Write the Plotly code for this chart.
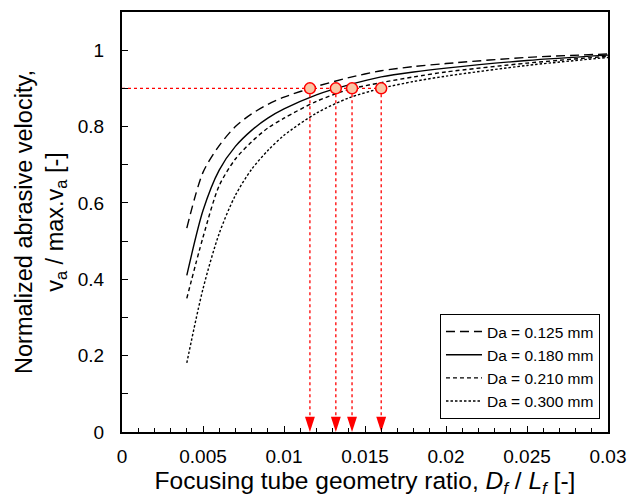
import plotly.graph_objects as go

x_vals = [0.004, 0.005, 0.006, 0.007, 0.008, 0.009, 0.010, 0.012, 0.014, 0.016, 0.018, 0.020, 0.025, 0.030]
v_0125 = [0.534, 0.680, 0.750, 0.800, 0.833, 0.858, 0.877, 0.905, 0.928, 0.946, 0.957, 0.965, 0.981, 0.990]
v_0180 = [0.410, 0.580, 0.686, 0.748, 0.790, 0.822, 0.846, 0.883, 0.909, 0.930, 0.943, 0.953, 0.973, 0.987]
v_0210 = [0.350, 0.510, 0.645, 0.715, 0.760, 0.796, 0.822, 0.866, 0.897, 0.915, 0.930, 0.943, 0.966, 0.984]
v_0300 = [0.181, 0.375, 0.520, 0.620, 0.688, 0.737, 0.777, 0.835, 0.875, 0.900, 0.918, 0.932, 0.960, 0.981]

series_names = ["Da = 0.125 mm", "Da = 0.180 mm", "Da = 0.210 mm", "Da = 0.300 mm"]
series_vals = [v_0125, v_0180, v_0210, v_0300]
dashes = ["9px,5px", "solid", "4px,3px", "2.5px,2px"]

marker_x = [0.0116, 0.0132, 0.0142, 0.0160]
marker_y = 0.9

fig = go.Figure()
for name, vals, d in zip(series_names, series_vals, dashes):
    fig.add_trace(go.Scatter(x=x_vals, y=vals, mode="lines", name=name,
                             line=dict(color="black", width=1.4, dash=d, shape="spline", smoothing=0.8)))

# horizontal guide
fig.add_trace(go.Scatter(x=[0, max(marker_x)], y=[marker_y, marker_y], mode="lines",
                         line=dict(color="red", width=1.3, dash="dot"), showlegend=False))
# vertical guides
for mx in marker_x:
    fig.add_trace(go.Scatter(x=[mx, mx], y=[marker_y, 0.03], mode="lines",
                             line=dict(color="red", width=1.3, dash="dot"), showlegend=False))
# arrowheads (tip at the axis)
fig.add_trace(go.Scatter(x=marker_x, y=[0.0] * len(marker_x), mode="markers", cliponaxis=False,
                         marker=dict(symbol="arrow", angle=180, size=16, color="red",
                                     line=dict(width=0)), showlegend=False))
# circles
fig.add_trace(go.Scatter(x=marker_x, y=[marker_y] * len(marker_x), mode="markers",
                         marker=dict(symbol="circle", size=11, color="#f9c6a6",
                                     line=dict(color="red", width=1.5)), showlegend=False))

fig.update_layout(
    width=632, height=501,
    margin=dict(l=122, r=24, t=12, b=69),
    plot_bgcolor="white", paper_bgcolor="white",
    font=dict(family="Liberation Sans, Arial", color="black"),
    legend=dict(x=0.9835, y=0.031, xanchor="right", yanchor="bottom",
                bgcolor="white", bordercolor="black", borderwidth=1,
                font=dict(size=15.5), tracegroupgap=0, itemwidth=36),
    xaxis=dict(range=[0, 0.03], dtick=0.005, tick0=0, ticks="inside", ticklen=6,
               tickwidth=1.2, tickcolor="black", ticklabelstandoff=6,
               minor=dict(dtick=0.001, ticks="inside", ticklen=4, tickcolor="black", tickwidth=1),
               showline=True, linecolor="black", linewidth=2, mirror=True,
               showgrid=False, zeroline=False, automargin=False,
               tickfont=dict(size=19),
               title=dict(text="Focusing tube geometry ratio, <i>D<sub>f</sub></i> / <i>L<sub>f</sub></i> [-]",
                          font=dict(size=24.5), standoff=5)),
    yaxis=dict(range=[0, 1.1], tickvals=[0, 0.2, 0.4, 0.6, 0.8, 1.0],
               ticktext=["0", "0.2", "0.4", "0.6", "0.8", "1"],
               ticks="inside", ticklen=6, tickwidth=1.2, tickcolor="black", ticklabelstandoff=12,
               minor=dict(tickvals=[0.1, 0.3, 0.5, 0.7, 0.9], ticks="inside", ticklen=6,
                          tickcolor="black", tickwidth=1.2),
               showline=True, linecolor="black", linewidth=2, mirror=True,
               showgrid=False, zeroline=False, automargin=False,
               tickfont=dict(size=19),
               title=dict(text="Normalized abrasive velocity,<br>v<sub>a</sub> / max.v<sub>a</sub> [-]",
                          font=dict(size=23.5), standoff=8)),
)

fig.write_html("out.html")
